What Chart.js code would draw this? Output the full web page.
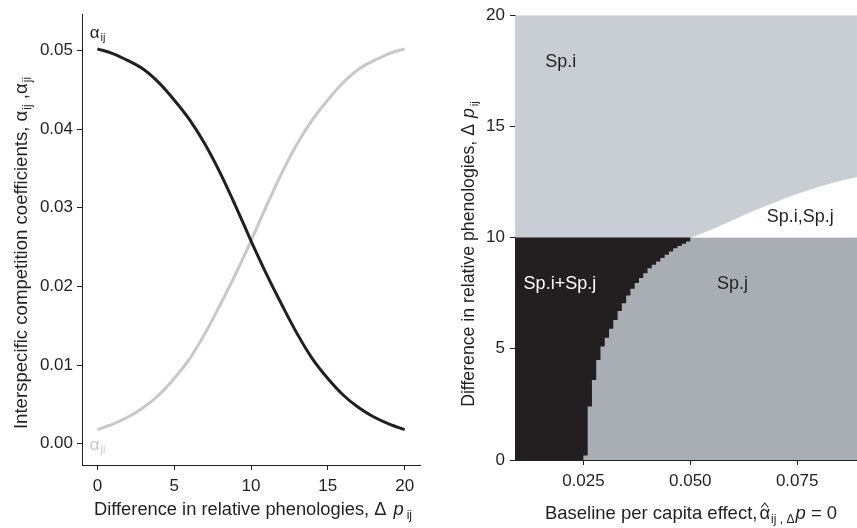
<!DOCTYPE html>
<html><head><meta charset="utf-8">
<script src="https://cdn.jsdelivr.net/npm/chart.js@4.4.1/dist/chart.umd.min.js"></script>
<style>
html,body{margin:0;padding:0;background:#fff;width:857px;height:528px;overflow:hidden}
#c1{position:absolute;left:0;top:0}
#c2{position:absolute;left:440px;top:0}
</style></head><body>
<canvas id="c1" width="432" height="528"></canvas>
<canvas id="c2" width="417" height="528"></canvas>
<script>
// ---------- Left panel data ----------
const deltaP  = [0,1,2,3,4,5,6,7,8,9,10,11,12,13,14,15,16,17,18,19,20];
const alphaIJ = [0.0502,0.0496,0.0487,0.0476,0.0459,0.0437,0.0412,0.0381,0.0344,0.0302,0.0258,0.0216,0.0177,0.0140,0.0108,0.0083,0.0062,0.0046,0.0034,0.0025,0.0018];
const alphaJI = [0.0018,0.0025,0.0034,0.0046,0.0062,0.0083,0.0108,0.0140,0.0177,0.0216,0.0258,0.0302,0.0344,0.0381,0.0412,0.0437,0.0459,0.0476,0.0487,0.0496,0.0502];
const leftXTicks = [0,5,10,15,20];
const leftYTicks = [0,0.01,0.02,0.03,0.04,0.05];

// ---------- Right panel data ----------
const baseAlphaRange = [0.009, 0.089];
const deltaRange = [0, 20];
const splitDelta = 10;
// coexistence (Sp.i+Sp.j) boundary: column start -> lower edge of black region
const coexistX = [0.025,0.026,0.027,0.028,0.029,0.030,0.031,0.032,0.033,0.034,0.035,0.036,0.037,0.038,0.039,0.040,0.041,0.042,0.043,0.044,0.045,0.046,0.047,0.048,0.049,0.050];
const coexistY = [0.2,2.4,3.6,4.5,5.1,5.5,5.9,6.3,6.7,7.05,7.4,7.7,7.96,8.18,8.4,8.62,8.78,8.93,9.08,9.23,9.38,9.52,9.62,9.72,9.83,10];
// priority-effect (Sp.i,Sp.j) upper boundary
const priorityX = [0.0503,0.0535,0.0565,0.0604,0.0643,0.0682,0.0721,0.0760,0.0799,0.0845,0.0890];
const priorityY = [10,10.25,10.49,10.83,11.16,11.47,11.76,12.03,12.28,12.52,12.73];
const rightXTicks = [0.025,0.050,0.075];
const rightYTicks = [0,5,10,15,20];

const FONT = '"Liberation Sans", Arial, Helvetica, sans-serif';
const INK = '#231f20';
const GREYLINE = '#c8c8c8';

function drawRich(ctx, parts, x, y, align, color) {
  let w = 0;
  for (const p of parts) {
    ctx.font = (p.italic ? 'italic ' : '') + p.size + 'px ' + FONT;
    p.w = ctx.measureText(p.t).width; w += p.w + (p.gap || 0);
  }
  let cx = align === 'center' ? x - w / 2 : (align === 'right' ? x - w : x);
  ctx.textAlign = 'left'; ctx.textBaseline = 'alphabetic';
  for (const p of parts) {
    cx += p.gap || 0;
    ctx.font = (p.italic ? 'italic ' : '') + p.size + 'px ' + FONT;
    ctx.fillStyle = p.color || color;
    ctx.fillText(p.t, cx, y + (p.dy || 0));
    if (p.hat) {
      ctx.strokeStyle = p.color || color; ctx.lineWidth = 1.1;
      const mx = cx + p.w / 2, ty = y - p.size * 0.62;
      ctx.beginPath(); ctx.moveTo(mx - 3.5, ty); ctx.lineTo(mx, ty - 4.5); ctx.lineTo(mx + 3.5, ty); ctx.stroke();
    }
    cx += p.w;
  }
}
function drawRotated(ctx, parts, x, y, color) {
  ctx.save(); ctx.translate(x, y); ctx.rotate(-Math.PI / 2);
  drawRich(ctx, parts, 0, 0, 'center', color);
  ctx.restore();
}

function axisCommon(extra) {
  return Object.assign({
    type: 'linear',
    grid: { drawOnChartArea: false, drawTicks: true, tickLength: 5, color: INK, lineWidth: 1 },
    border: { display: true, color: INK, width: 1 },
  }, extra);
}

// ---------- Left chart ----------
const curveLabels = [
  { sub: 'ij', x: -0.5, y: 0.0516, color: INK },
  { sub: 'ji', x: -0.5, y: -0.0008, color: GREYLINE }
];
new Chart(document.getElementById('c1'), {
  type: 'line',
  data: { datasets: [
    { data: deltaP.map((x, i) => ({ x, y: alphaIJ[i] })), borderColor: INK, borderWidth: 3, pointRadius: 0, cubicInterpolationMode: 'monotone', fill: false },
    { data: deltaP.map((x, i) => ({ x, y: alphaJI[i] })), borderColor: GREYLINE, borderWidth: 3, pointRadius: 0, cubicInterpolationMode: 'monotone', fill: false }
  ]},
  options: {
    responsive: false, animation: false, events: [],
    layout: { padding: { top: 14, right: 12, left: 0, bottom: 0 } },
    plugins: { legend: { display: false }, tooltip: { enabled: false } },
    scales: {
      x: axisCommon({ min: -1, max: 21,
        afterBuildTicks: a => { a.ticks = leftXTicks.map(v => ({ value: v })); },
        afterFit: s => { s.height = 63; },
        ticks: { font: { family: FONT, size: 17 }, color: INK, padding: 6, maxRotation: 0, callback: v => String(v) } }),
      y: axisCommon({ min: -0.0027, max: 0.0546,
        afterBuildTicks: a => { a.ticks = leftYTicks.map(v => ({ value: v })); },
        afterFit: s => { s.width = 82; },
        ticks: { font: { family: FONT, size: 17 }, color: INK, padding: 4, callback: v => v.toFixed(2) } })
    }
  },
  plugins: [{
    id: 'leftText',
    afterDraw(chart) {
      const ctx = chart.ctx, xs = chart.scales.x, ys = chart.scales.y, ca = chart.chartArea;
      for (const l of curveLabels) {
        drawRich(ctx, [{ t: 'α', size: 17 }, { t: l.sub, size: 11, dy: 3, gap: 1 }],
          xs.getPixelForValue(l.x), ys.getPixelForValue(l.y), 'left', l.color);
      }
      drawRich(ctx, [
        { t: 'Difference in relative phenologies, Δ ', size: 18.3 },
        { t: 'p', size: 18.3, italic: true, gap: 2 },
        { t: 'ij', size: 12, dy: 4, gap: 3 }
      ], (ca.left + ca.right) / 2 + 2, 515, 'center', INK);
      drawRotated(ctx, [
        { t: 'Interspecific competition coefficients, α', size: 18.6 },
        { t: 'ij', size: 12, dy: 4, gap: 1 },
        { t: ' ,α', size: 18.6 },
        { t: 'ji', size: 12, dy: 4, gap: 1 }
      ], 27, 253, INK);
    }
  }]
});

// ---------- Right chart ----------
const [xmin, xmax] = baseAlphaRange;
const [ymin, ymax] = deltaRange;
const spIPoly = [{ x: xmin, y: splitDelta }, { x: xmax, y: splitDelta }, { x: xmax, y: ymax }, { x: xmin, y: ymax }];
const spJPoly = [{ x: xmin, y: ymin }, { x: xmax, y: ymin }, { x: xmax, y: splitDelta }, { x: xmin, y: splitDelta }];
const coexistPoly = [{ x: xmin, y: splitDelta }, { x: xmin, y: ymin }].concat(coexistX.map((x, i) => ({ x, y: coexistY[i] })));
const priorityPoly = priorityX.map((x, i) => ({ x, y: priorityY[i] })).concat([{ x: xmax, y: splitDelta }]);

const regionLabels = [
  { text: 'Sp.i', x: 0.0197, y: 17.66, color: INK },
  { text: 'Sp.i,Sp.j', x: 0.0757, y: 10.71, color: INK },
  { text: 'Sp.i+Sp.j', x: 0.0195, y: 7.67, color: '#ffffff' },
  { text: 'Sp.j', x: 0.0599, y: 7.67, color: INK }
];

function region(data, color, stepped) {
  return { data, backgroundColor: color, borderColor: 'rgba(0,0,0,0)', borderWidth: 0, pointRadius: 0, fill: 'shape', stepped: stepped, tension: 0 };
}

new Chart(document.getElementById('c2'), {
  type: 'line',
  data: { datasets: [
    region(priorityPoly, '#ffffff', false),
    region(coexistPoly, INK, 'before'),
    region(spJPoly, '#a9aeb5', 'before'),
    region(spIPoly, '#c9cdd4', 'before')
  ]},
  options: {
    responsive: false, animation: false, events: [],
    layout: { padding: { top: 15, right: 0, left: 0, bottom: 0 } },
    plugins: { legend: { display: false }, tooltip: { enabled: false } },
    scales: {
      x: axisCommon({ min: xmin, max: xmax,
        afterBuildTicks: a => { a.ticks = rightXTicks.map(v => ({ value: v })); },
        afterFit: s => { s.height = 68; },
        ticks: { font: { family: FONT, size: 17 }, color: INK, padding: 6, maxRotation: 0, callback: v => v.toFixed(3) } }),
      y: axisCommon({ min: ymin, max: ymax,
        afterBuildTicks: a => { a.ticks = rightYTicks.map(v => ({ value: v })); },
        afterFit: s => { s.width = 75; },
        ticks: { font: { family: FONT, size: 17 }, color: INK, padding: 5, callback: v => String(v) } })
    }
  },
  plugins: [{
    id: 'rightText',
    afterDraw(chart) {
      const ctx = chart.ctx, xs = chart.scales.x, ys = chart.scales.y, ca = chart.chartArea;
      for (const l of regionLabels) {
        drawRich(ctx, [{ t: l.text, size: 18 }], xs.getPixelForValue(l.x), ys.getPixelForValue(l.y), 'center', l.color);
      }
      drawRich(ctx, [
        { t: 'Baseline per capita effect,', size: 18.5 },
        { t: 'α', size: 18.5, hat: true, gap: 2 },
        { t: 'ij , Δ', size: 12, dy: 4, gap: 1 },
        { t: 'p', size: 18.5, italic: true, gap: 1 },
        { t: ' = 0', size: 18.5 }
      ], 251, 519, 'center', INK);
      drawRotated(ctx, [
        { t: 'Difference in relative phenologies, Δ ', size: 17.7 },
        { t: 'p', size: 17.7, italic: true, gap: 1 },
        { t: 'ij', size: 11.5, dy: 4, gap: 2 }
      ], 33.5, 254, INK);
    }
  }]
});
</script>
</body></html>
